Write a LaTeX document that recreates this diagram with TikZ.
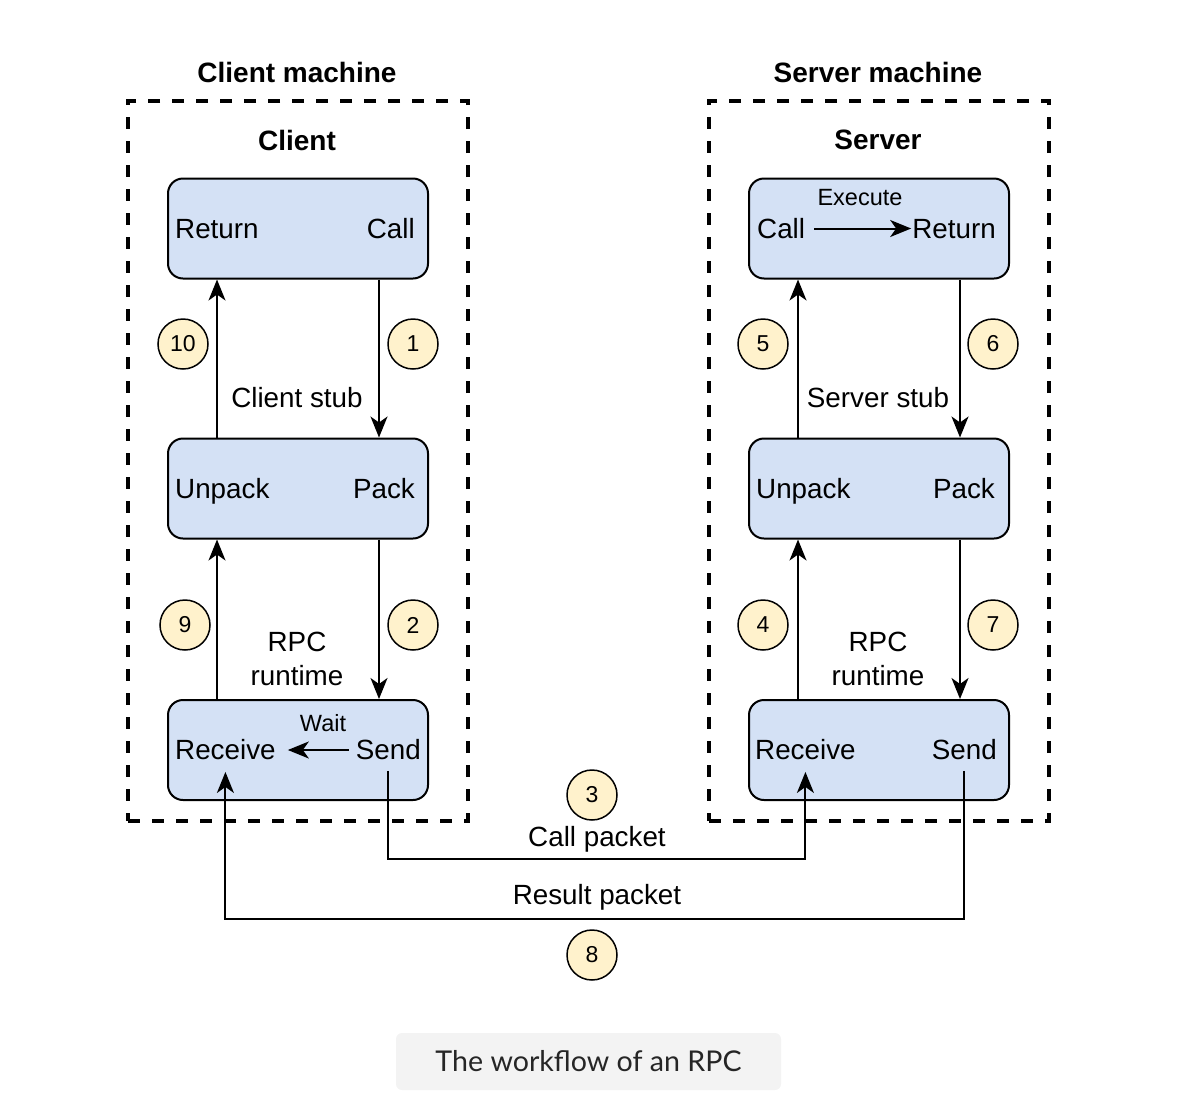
\documentclass[tikz,border=0pt]{standalone}
\usepackage{fontspec}
\setmainfont{Liberation Sans}
\newfontfamily\captionfont{Lato}
\usetikzlibrary{arrows.meta}

\definecolor{stageblue}{HTML}{D4E1F5}
\definecolor{numyellow}{HTML}{FFF2CC}
\definecolor{capgray}{HTML}{F3F3F3}

\tikzset{
    machine/.style={draw, line width=3.5pt, dash pattern=on 12pt off 12pt, minimum width=340pt, minimum height=720pt},
    stage/.style={draw, line width=2pt, rounded corners=15pt, fill=stageblue, minimum width=260pt, minimum height=100pt},
    stepnum/.style={circle, draw, line width=1.5pt, fill=numyellow, minimum size=50pt, inner sep=0pt, font=\fontsize{23}{23}\selectfont},
    lbl/.style={inner sep=0pt, font=\fontsize{27.8}{34}\selectfont},
    boxlbl/.style={lbl, text height=19.5pt, text depth=0pt},
    smalllbl/.style={inner sep=0pt, font=\fontsize{23.5}{26}\selectfont},
    head/.style={inner sep=0pt, font=\bfseries\fontsize{28}{32}\selectfont},
    flow/.style={line width=2pt, ->}
}

\begin{document}
\begin{tikzpicture}[x=1pt, y=-1pt, >={Stealth[length=21pt, width=17pt, inset=6pt]}]
    \useasboundingbox (0,0) rectangle (1188,1098);

    % machines
    \node[machine] (clientm) at (298,461) {};
    \node[machine] (serverm) at (879,461) {};
    \node[head] at (297,72) {Client machine};
    \node[head] at (878,72) {Server machine};
    \node[head] at (297,140) {Client};
    \node[head] at (878,140) {Server};

    % client side
    \node[stage] (topL) at (298,228.5) {};
    \node[stage] (midL) at (298,488.5) {};
    \node[stage] (botL) at (298,750) {};
    \node[boxlbl, anchor=west] (retL) at ([xshift=8pt]topL.west) {Return};
    \node[boxlbl, anchor=east] (callL) at ([xshift=-14pt]topL.east) {Call};
    \node[boxlbl, anchor=west] (unpackL) at ([xshift=8pt]midL.west) {Unpack};
    \node[boxlbl, anchor=east] (packL) at ([xshift=-14pt]midL.east) {Pack};
    \node[boxlbl, anchor=west] (recvL) at ([xshift=8pt]botL.west) {Receive};
    \node[boxlbl, anchor=east] (sendL) at ([xshift=-8pt]botL.east) {Send};
    \node[smalllbl] at (323,723) {Wait};
    \draw[flow, shorten <=7pt, shorten >=12pt] (sendL.west) -- (recvL.east);

    % server side
    \node[stage] (topR) at (879,228.5) {};
    \node[stage] (midR) at (879,488.5) {};
    \node[stage] (botR) at (879,750) {};
    \node[boxlbl, anchor=west] (callR) at ([xshift=9pt]topR.west) {Call};
    \node[boxlbl, anchor=east] (retR) at ([xshift=-14pt]topR.east) {Return};
    \node[boxlbl, anchor=west] (unpackR) at ([xshift=8pt]midR.west) {Unpack};
    \node[boxlbl, anchor=east] (packR) at ([xshift=-15pt]midR.east) {Pack};
    \node[boxlbl, anchor=west] (recvR) at ([xshift=7pt]botR.west) {Receive};
    \node[boxlbl, anchor=east] (sendR) at ([xshift=-13pt]botR.east) {Send};
    \node[smalllbl] at (860,198) {Execute};
    \draw[flow, shorten <=9pt, shorten >=1pt] (callR.east) -- (retR.west);

    % stub and runtime arrows
    \draw[flow] ([xshift=81pt]topL.south) -- ([xshift=81pt]midL.north);
    \draw[flow] ([xshift=-81pt]midL.north) -- ([xshift=-81pt]topL.south);
    \draw[flow] ([xshift=81pt]midL.south) -- ([xshift=81pt]botL.north);
    \draw[flow] ([xshift=-81pt]botL.north) -- ([xshift=-81pt]midL.south);
    \draw[flow] ([xshift=81pt]topR.south) -- ([xshift=81pt]midR.north);
    \draw[flow] ([xshift=-81pt]midR.north) -- ([xshift=-81pt]topR.south);
    \draw[flow] ([xshift=81pt]midR.south) -- ([xshift=81pt]botR.north);
    \draw[flow] ([xshift=-81pt]botR.north) -- ([xshift=-81pt]midR.south);

    \node[lbl] at (297,398) {Client stub};
    \node[lbl] at (878,398) {Server stub};
    \node[lbl, align=center] at (297,659) {RPC\\runtime};
    \node[lbl, align=center] at (878,659) {RPC\\runtime};

    % packets
    \coordinate (callrow) at (0,859);
    \coordinate (resrow) at (0,919);
    \draw[flow, shorten <=11pt, shorten >=12pt] (sendL.south) -- (sendL.south |- callrow) -| (recvR.south);
    \draw[flow, shorten <=11pt, shorten >=12pt] (sendR.south) -- (sendR.south |- resrow) -| (recvL.south);
    \node[lbl] at (597,839) {Call packet};
    \node[lbl] at (597,897) {Result packet};

    % step numbers
    \node[stepnum] (n1) at (413,344) {1};
    \node[stepnum] (n2) at (413,625) {2};
    \node[stepnum] (n3) at (592,795) {3};
    \node[stepnum] (n4) at (763,625) {4};
    \node[stepnum] (n5) at (763,344) {5};
    \node[stepnum] (n6) at (993,344) {6};
    \node[stepnum] (n7) at (993,625) {7};
    \node[stepnum] (n8) at (592,955) {8};
    \node[stepnum] (n9) at (185,625) {9};
    \node[stepnum] (n10) at (183,344) {10};

    % caption
    \node[fill=capgray, rounded corners=6pt, minimum width=385pt, minimum height=57pt,
          text=black!85, font=\captionfont\fontsize{28.6}{30}\selectfont] (caption) at (588.5,1061.5) {The workflow of an RPC};
\end{tikzpicture}
\end{document}
